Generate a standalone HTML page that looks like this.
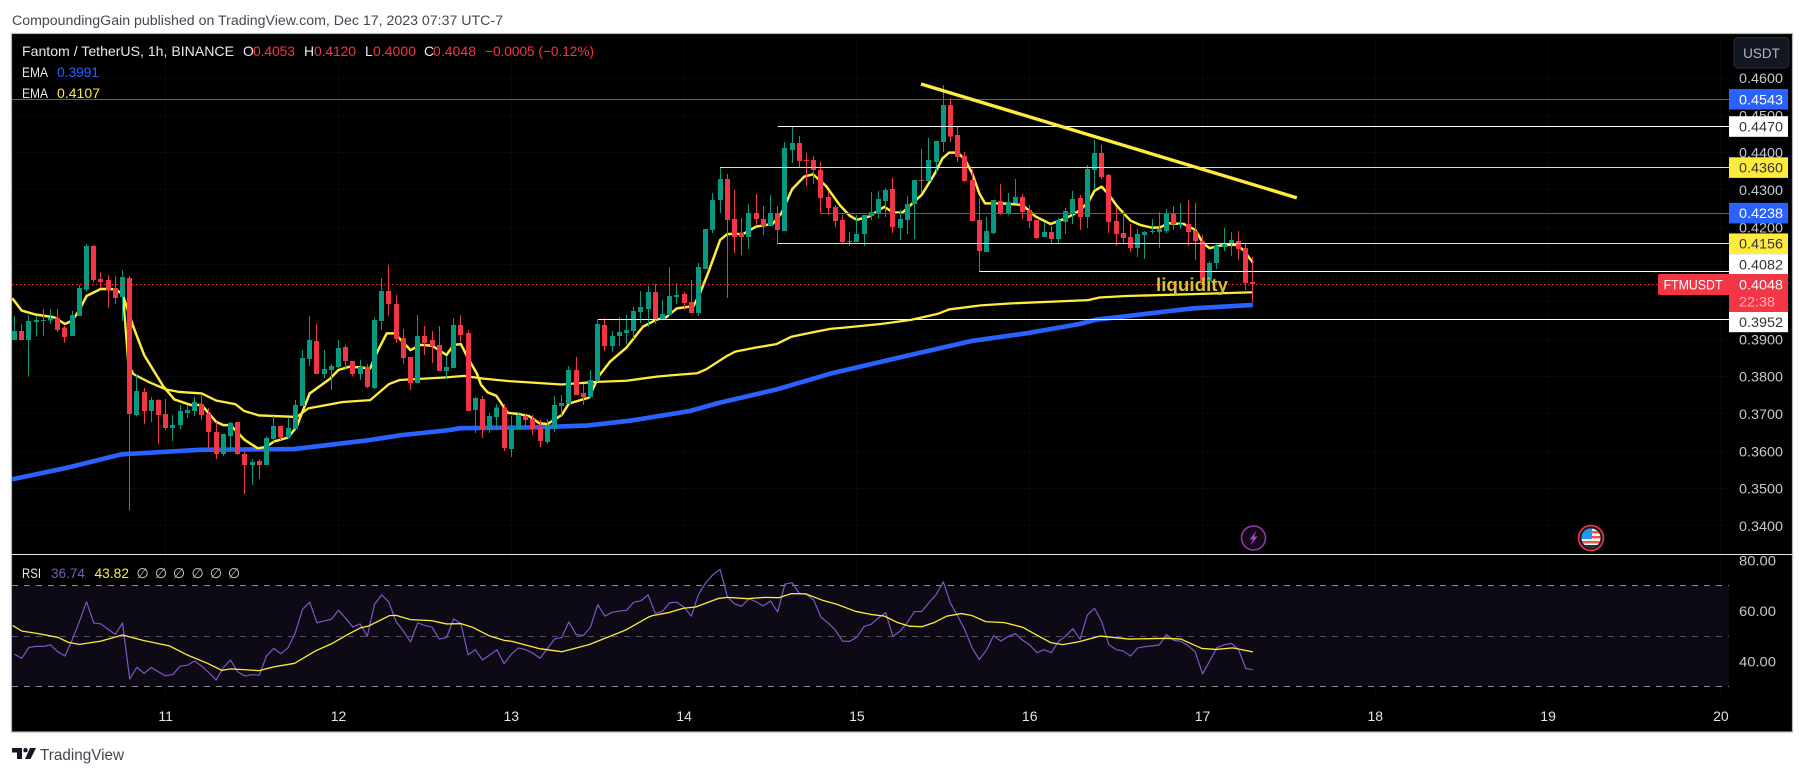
<!DOCTYPE html>
<html lang="en">
<head>
<meta charset="utf-8">
<title>Fantom / TetherUS 1h chart</title>
<style>
html,body{margin:0;padding:0;background:#fff;}
svg{display:block;font-family:"Liberation Sans",sans-serif;}
</style>
</head>
<body>
<svg id="chart" xmlns="http://www.w3.org/2000/svg" width="1805" height="775" viewBox="0 0 1805 775">
  <defs>
    <clipPath id="pane-clip"><rect x="12" y="34" width="1717" height="520"/></clipPath>
    <clipPath id="flag-clip"><circle cx="1591" cy="538" r="9.5"/></clipPath>
  </defs>
  <rect x="0" y="0" width="1805" height="775" fill="#ffffff"/>
  <text x="12" y="25" font-size="13.5" fill="#434651" textLength="491" lengthAdjust="spacingAndGlyphs">CompoundingGain published on TradingView.com, Dec 17, 2023 07:37 UTC-7</text>
  <rect x="11.5" y="33.5" width="1781" height="698.5" fill="#000000" stroke="#b2b5be" stroke-width="1.2"/>

  <g id="grid"></g>
  <g id="rsi-pane"></g>
  <g id="main-pane" clip-path="url(#pane-clip)"></g>
  <rect x="12" y="554" width="1781" height="1" fill="#e6e7ea"/>
  <text x="1156" y="291" font-size="18" font-weight="bold" fill="#d6c22e" textLength="72" lengthAdjust="spacingAndGlyphs">liquidity</text>

  <g font-size="14">
    <text x="22" y="56" fill="#e8e9ec" textLength="212" lengthAdjust="spacingAndGlyphs">Fantom / TetherUS, 1h, BINANCE</text>
    <text x="243" y="56" fill="#e8e9ec">O</text>
    <text x="253" y="56" fill="#f23645" textLength="42">0.4053</text>
    <text x="304" y="56" fill="#e8e9ec">H</text>
    <text x="314" y="56" fill="#f23645" textLength="42">0.4120</text>
    <text x="365" y="56" fill="#e8e9ec">L</text>
    <text x="373" y="56" fill="#f23645" textLength="43">0.4000</text>
    <text x="424" y="56" fill="#e8e9ec">C</text>
    <text x="433" y="56" fill="#f23645" textLength="43">0.4048</text>
    <text x="485" y="56" fill="#f23645" textLength="109" lengthAdjust="spacingAndGlyphs">−0.0005 (−0.12%)</text>
    <text x="22" y="77" fill="#e8e9ec" textLength="26" lengthAdjust="spacingAndGlyphs">EMA</text>
    <text x="57" y="77" fill="#2962ff" textLength="42">0.3991</text>
    <text x="22" y="98" fill="#e8e9ec" textLength="26" lengthAdjust="spacingAndGlyphs">EMA</text>
    <text x="57" y="98" fill="#ffeb3b" textLength="43">0.4107</text>
  </g>

  <g font-size="14">
    <text x="22" y="578" fill="#e8e9ec" textLength="19" lengthAdjust="spacingAndGlyphs">RSI</text>
    <text x="51" y="578" fill="#7e57c2" textLength="34" lengthAdjust="spacingAndGlyphs">36.74</text>
    <text x="94.5" y="578" fill="#ffeb3b" textLength="34.5" lengthAdjust="spacingAndGlyphs">43.82</text>
    <text x="142.6" y="578" fill="#d1d4dc" text-anchor="middle">∅</text>
    <text x="161" y="578" fill="#d1d4dc" text-anchor="middle">∅</text>
    <text x="179" y="578" fill="#d1d4dc" text-anchor="middle">∅</text>
    <text x="197.6" y="578" fill="#d1d4dc" text-anchor="middle">∅</text>
    <text x="216" y="578" fill="#d1d4dc" text-anchor="middle">∅</text>
    <text x="234" y="578" fill="#d1d4dc" text-anchor="middle">∅</text>
  </g>

  <g id="price-axis"></g>
  <g id="time-axis"></g>

  <g>
    <rect x="1734" y="37.5" width="55" height="30.5" rx="4" fill="#131722" stroke="#2a2e39" stroke-width="1"/>
    <text x="1761.5" y="58" font-size="13.5" fill="#b2b5be" text-anchor="middle">USDT</text>
  </g>

  <g>
    <circle cx="1253.5" cy="538" r="12" fill="#14081a" stroke="#8e3aa6" stroke-width="1.6"/>
    <path d="M1256.5 530.5 L1249.5 539.5 L1253 539.5 L1250.5 545.5 L1257.5 536.5 L1254 536.5 Z" fill="#a845c4"/>
  </g>
  <g>
    <circle cx="1591" cy="538" r="12.5" fill="#1c1c20" stroke="#f23645" stroke-width="1.6"/>
    <g clip-path="url(#flag-clip)">
      <rect x="1581" y="528" width="20" height="20" fill="#f4f4f4"/>
      <rect x="1581" y="531" width="20" height="2.4" fill="#ef5350"/>
      <rect x="1581" y="536" width="20" height="2.4" fill="#ef5350"/>
      <rect x="1581" y="541" width="20" height="2.4" fill="#ef5350"/>
      <rect x="1581" y="528" width="11" height="11" fill="#2196f3"/>
      <rect x="1581" y="545" width="20" height="3" fill="#2a2e39"/>
    </g>
  </g>

  <g>
    <path d="M12 748 H22 V759 H17 V752.5 H12 Z M36 748 L30.5 759 H25 L30 748 Z" fill="#131722"/>
    <circle cx="25.5" cy="750.2" r="2.2" fill="#131722"/>
    <text x="40" y="760" font-size="16" fill="#434651" textLength="84" lengthAdjust="spacingAndGlyphs">TradingView</text>
  </g>
</svg>

<script>
// ---------- chart data (prices in USDT, indices in hourly candles) ----------
const opens = [
0.3898,0.3922,0.3898,0.3947,0.3949,0.3950,0.3957,0.3931,0.3909,0.3962,
0.4034,0.4150,0.4061,0.4059,0.4037,0.4013,0.4064,0.3697,0.3759,0.3708,
0.3737,0.3700,0.3662,0.3670,0.3703,0.3708,0.3727,0.3700,0.3652,0.3593,
0.3641,0.3678,0.3593,0.3563,0.3574,0.3563,0.3633,0.3668,0.3637,0.3660,
0.3721,0.3847,0.3895,0.3807,0.3818,0.3826,0.3879,0.3842,0.3807,0.3826,
0.3770,0.3949,0.4029,0.3995,0.3903,0.3852,0.3783,0.3909,0.3898,0.3885,
0.3815,0.3823,0.3938,0.3917,0.3711,0.3740,0.3657,0.3692,0.3716,0.3606,
0.3660,0.3694,0.3686,0.3662,0.3625,0.3665,0.3721,0.3727,0.3818,0.3756,
0.3745,0.3788,0.3938,0.3882,0.3909,0.3917,0.3922,0.3973,0.3981,0.4027,
0.3954,0.3965,0.4013,0.4021,0.4000,0.3970,0.4088,0.4193,0.4273,0.4329,
0.4222,0.4185,0.4174,0.4238,0.4222,0.4204,0.4238,0.4190,0.4407,0.4426,
0.4380,0.4380,0.4354,0.4281,0.4254,0.4220,0.4163,0.4161,0.4182,0.4230,
0.4238,0.4271,0.4303,0.4198,0.4220,0.4262,0.4327,0.4324,0.4375,0.4429,
0.4528,0.4447,0.4391,0.4327,0.4220,0.4134,0.4185,0.4271,0.4236,0.4265,
0.4281,0.4246,0.4220,0.4174,0.4187,0.4169,0.4214,0.4236,0.4278,0.4228,
0.4354,0.4399,0.4340,0.4217,0.4185,0.4174,0.4145,0.4179,0.4187,0.4187,
0.4190,0.4236,0.4206,0.4209,0.4190,0.4163,0.4056,0.4104,0.4147,0.4155,
0.4163,0.4145,0.4053];
const highs = [
0.3962,0.3941,0.3965,0.3962,0.3981,0.3981,0.3981,0.3936,0.3976,0.4045,
0.4155,0.4153,0.4079,0.4072,0.4070,0.4086,0.4070,0.3807,0.3769,0.3745,
0.3740,0.3740,0.3697,0.3724,0.3724,0.3745,0.3753,0.3716,0.3678,0.3646,
0.3679,0.3678,0.3599,0.3579,0.3579,0.3639,0.3694,0.3668,0.3689,0.3737,
0.3871,0.3962,0.3941,0.3871,0.3834,0.3898,0.3885,0.3842,0.3844,0.3834,
0.3959,0.4064,0.4099,0.4019,0.3928,0.3852,0.3965,0.3936,0.3922,0.3936,
0.3855,0.3957,0.3965,0.3925,0.3745,0.3748,0.3702,0.3727,0.3727,0.3694,
0.3705,0.3700,0.3697,0.3684,0.3686,0.3748,0.3751,0.3828,0.3852,0.3780,
0.3818,0.3952,0.3957,0.3922,0.3960,0.3965,0.3987,0.4029,0.4043,0.4048,
0.4005,0.4094,0.4051,0.4027,0.4059,0.4104,0.4196,0.4292,0.4359,0.4343,
0.4300,0.4225,0.4262,0.4289,0.4257,0.4287,0.4257,0.4429,0.4469,0.4445,
0.4399,0.4391,0.4375,0.4295,0.4260,0.4233,0.4187,0.4233,0.4233,0.4295,
0.4297,0.4305,0.4332,0.4246,0.4284,0.4327,0.4410,0.4439,0.4431,0.4581,
0.4546,0.4469,0.4402,0.4356,0.4279,0.4228,0.4273,0.4316,0.4292,0.4329,
0.4289,0.4260,0.4220,0.4214,0.4203,0.4225,0.4252,0.4297,0.4286,0.4367,
0.4434,0.4420,0.4343,0.4254,0.4246,0.4209,0.4195,0.4190,0.4222,0.4241,
0.4249,0.4257,0.4265,0.4273,0.4265,0.4179,0.4110,0.4158,0.4198,0.4187,
0.4190,0.4155,0.4120];
const lows = [
0.3898,0.3898,0.3800,0.3907,0.3909,0.3941,0.3920,0.3891,0.3909,0.3962,
0.4030,0.4052,0.4037,0.3984,0.3995,0.3949,0.3441,0.3693,0.3673,0.3678,
0.3619,0.3657,0.3628,0.3660,0.3689,0.3694,0.3684,0.3608,0.3579,0.3587,
0.3599,0.3590,0.3485,0.3510,0.3526,0.3563,0.3625,0.3630,0.3633,0.3660,
0.3721,0.3828,0.3807,0.3796,0.3764,0.3823,0.3818,0.3800,0.3791,0.3770,
0.3767,0.3925,0.3962,0.3890,0.3834,0.3764,0.3783,0.3858,0.3836,0.3815,
0.3794,0.3823,0.3893,0.3708,0.3649,0.3636,0.3649,0.3657,0.3601,0.3585,
0.3660,0.3668,0.3644,0.3611,0.3620,0.3652,0.3692,0.3727,0.3751,0.3724,
0.3745,0.3786,0.3869,0.3866,0.3882,0.3887,0.3901,0.3944,0.3933,0.3941,
0.3952,0.3962,0.3995,0.3978,0.3970,0.3962,0.4088,0.4185,0.4238,0.4011,
0.4131,0.4126,0.4142,0.4204,0.4179,0.4204,0.4154,0.4190,0.4372,0.4362,
0.4311,0.4316,0.4237,0.4233,0.4201,0.4155,0.4150,0.4161,0.4150,0.4220,
0.4225,0.4228,0.4185,0.4166,0.4182,0.4169,0.4292,0.4324,0.4343,0.4402,
0.4429,0.4375,0.4321,0.4217,0.4083,0.4134,0.4182,0.4233,0.4233,0.4265,
0.4222,0.4198,0.4169,0.4174,0.4158,0.4155,0.4182,0.4209,0.4193,0.4198,
0.4300,0.4329,0.4185,0.4150,0.4158,0.4134,0.4120,0.4115,0.4182,0.4145,
0.4185,0.4193,0.4195,0.4150,0.4112,0.4051,0.4056,0.4088,0.4136,0.4123,
0.4112,0.4032,0.4000];
const closes = [
0.3922,0.3898,0.3949,0.3952,0.3952,0.3957,0.3925,0.3906,0.3965,0.4037,
0.4150,0.4059,0.4053,0.4032,0.4011,0.4067,0.3700,0.3761,0.3708,0.3737,
0.3697,0.3662,0.3670,0.3708,0.3711,0.3732,0.3697,0.3652,0.3593,0.3646,
0.3676,0.3593,0.3563,0.3571,0.3563,0.3636,0.3668,0.3637,0.3662,0.3724,
0.3850,0.3898,0.3807,0.3820,0.3828,0.3877,0.3842,0.3807,0.3826,0.3772,
0.3952,0.4029,0.3995,0.3901,0.3850,0.3783,0.3909,0.3890,0.3882,0.3815,
0.3826,0.3938,0.3911,0.3708,0.3743,0.3660,0.3694,0.3718,0.3609,0.3662,
0.3697,0.3684,0.3660,0.3628,0.3668,0.3724,0.3729,0.3818,0.3751,0.3745,
0.3791,0.3941,0.3882,0.3909,0.3919,0.3925,0.3976,0.3987,0.4027,0.3954,
0.3968,0.4016,0.4019,0.3997,0.3970,0.4094,0.4196,0.4273,0.4329,0.4220,
0.4174,0.4174,0.4238,0.4222,0.4204,0.4238,0.4193,0.4412,0.4426,0.4378,
0.4378,0.4354,0.4279,0.4252,0.4217,0.4161,0.4161,0.4182,0.4233,0.4241,
0.4276,0.4300,0.4201,0.4222,0.4262,0.4327,0.4324,0.4380,0.4431,0.4528,
0.4443,0.4388,0.4324,0.4217,0.4137,0.4190,0.4273,0.4236,0.4268,0.4281,
0.4241,0.4217,0.4171,0.4187,0.4169,0.4220,0.4244,0.4276,0.4228,0.4356,
0.4399,0.4335,0.4214,0.4182,0.4171,0.4145,0.4182,0.4187,0.4190,0.4195,
0.4236,0.4209,0.4209,0.4187,0.4163,0.4056,0.4104,0.4150,0.4158,0.4166,
0.4142,0.4051,0.4048];

const emaFastIndex = [-0.3,1,3,5.5,7,8,9,10,12,14,15,16.5,18,20.7,22.2,24.5,26,28,29,30,32,33.8,35,36,38,39.2,40,41,43.8,45,46.6,49.4,50.5,51.7,52.8,55,56.4,58,60,61,62,63,64.2,64.8,65.7,66.9,68.5,70,71.5,72.9,74,76,77,79.8,81.1,82.7,85,87.3,89.2,90.5,92,94.3,95.2,96.4,98,99,101.2,103,105.3,106.5,108,109.7,110.9,112.7,114.6,116,117,118.7,120.8,122,123.3,124.7,126,127.7,128.9,129.8,131,132,133,134,134.8,137.1,140,141.8,143.9,145.5,146.9,148,149.2,150,151,152,153.2,155,156.4,158,159.1,160.3,162.4,164,165.1,166,167.9,169.7,170.7,172];
const emaFastValues = [0.4010,0.3977,0.3966,0.3959,0.3941,0.3950,0.3978,0.4016,0.4035,0.4034,0.4021,0.3934,0.3858,0.3773,0.3739,0.3724,0.3724,0.3679,0.3670,0.3670,0.3630,0.3608,0.3612,0.3626,0.3637,0.3666,0.3706,0.3755,0.3794,0.3818,0.3827,0.3822,0.3871,0.3916,0.3916,0.3871,0.3885,0.3883,0.3858,0.3885,0.3887,0.3849,0.3809,0.3778,0.3758,0.3749,0.3703,0.3700,0.3694,0.3675,0.3673,0.3697,0.3728,0.3744,0.3800,0.3840,0.3878,0.3934,0.3953,0.3959,0.3983,0.3989,0.4023,0.4081,0.4166,0.4182,0.4182,0.4202,0.4209,0.4237,0.4302,0.4336,0.4342,0.4311,0.4260,0.4231,0.4220,0.4229,0.4255,0.4240,0.4239,0.4264,0.4287,0.4340,0.4385,0.4400,0.4400,0.4382,0.4345,0.4291,0.4264,0.4264,0.4260,0.4229,0.4209,0.4220,0.4233,0.4246,0.4269,0.4298,0.4309,0.4287,0.4255,0.4218,0.4206,0.4199,0.4200,0.4211,0.4209,0.4193,0.4157,0.4144,0.4153,0.4153,0.4139,0.4105];

const emaSlowIndex = [15.1,15.8,16.5,18.7,21,22.9,26,28,30.7,31.9,34,39.2,40.8,45.6,49.4,52,53.5,60,62.4,65,68.7,76,80.9,85,89.2,91.5,94.8,96.1,98.9,100.1,103,105.8,107.9,110.9,113.3,115.6,120.3,124.5,128.2,129.8,134.2,138.2,149.1,150.7,154.4,163.7,172];
const emaSlowValues = [0.4014,0.3835,0.3807,0.3785,0.3766,0.3759,0.3755,0.3736,0.3726,0.3708,0.3696,0.3692,0.3715,0.3732,0.3737,0.3780,0.3791,0.3798,0.3802,0.3795,0.3788,0.3779,0.3786,0.3789,0.3800,0.3804,0.3809,0.3820,0.3855,0.3867,0.3878,0.3887,0.3907,0.3919,0.3928,0.3932,0.3941,0.3952,0.3968,0.3980,0.3991,0.3996,0.4005,0.4012,0.4016,0.4021,0.4026];

const emaBlueIndex = [-0.3,7.3,14.9,25.8,38.8,48.9,53.6,60.5,61.9,71.6,79.5,85.5,93.8,97.9,105.9,113.3,121.5,129.4,133.1,140.5,147.9,150.3,154.4,163.7,172];
const emaBlueValues = [0.3525,0.3556,0.3592,0.3604,0.3606,0.3629,0.3643,0.3657,0.3662,0.3664,0.3669,0.3682,0.3708,0.3730,0.3766,0.3808,0.3845,0.3880,0.3896,0.3916,0.3941,0.3953,0.3962,0.3983,0.3992];

const rsiValues = [
42.9,41.3,45.6,46.0,46.0,46.6,43.9,42.2,48.5,55.8,
63.7,55.3,54.9,52.8,50.7,55.3,33.1,37.7,35.3,37.7,
35.9,34.3,34.9,38.2,38.5,40.2,38.2,35.6,32.7,37.6,
40.6,35.9,34.3,34.8,34.6,42.2,45.2,43.1,45.5,51.4,
60.7,63.5,55.4,56.1,56.7,60.3,57.1,53.7,54.9,50.0,
62.7,66.4,63.5,55.8,52.1,47.8,55.3,54.3,53.6,48.9,
49.5,56.9,55.0,42.7,44.7,40.6,42.6,44.7,39.2,42.9,
45.4,44.7,43.3,41.3,45.1,48.9,49.5,55.7,50.7,50.3,
53.6,62.5,58.0,59.5,60.0,60.3,63.5,64.0,66.4,59.1,
59.9,63.3,63.5,61.5,58.0,66.6,71.2,74.4,76.5,65.7,
62.8,61.9,64.9,63.7,62.0,64.0,59.6,70.7,71.2,67.0,
66.6,64.4,57.6,55.3,52.5,48.1,48.0,49.7,53.9,54.8,
57.3,59.4,49.9,52.1,55.5,59.8,59.8,63.3,66.5,71.6,
63.1,58.0,52.5,45.4,40.8,44.6,50.3,48.1,49.9,51.1,
48.5,46.6,43.5,44.7,43.5,48.0,50.1,53.0,48.8,58.4,
61.1,55.8,46.7,44.7,44.2,42.2,45.4,45.9,46.2,46.6,
50.7,48.4,48.0,46.3,43.8,35.1,40.2,45.5,46.6,47.2,
44.8,37.3,36.74];
const rsiMaIndex = [-0.26,1,3,6,7.5,9,12,15,18,21.5,24,26.8,28.8,30,34,36,38.9,41.8,44,46.4,48.1,49.2,52.1,53,55,57.9,60,62,63.6,66,68,69.1,72.9,76,79.8,84.9,88,88.6,90.9,92.9,94.6,97.8,99,101.8,104.1,106.2,107.9,109.9,112.2,114.2,116.8,119.1,120.8,122.6,124.3,126,127.7,129.5,131.5,132.9,134.9,137.5,140,142.1,143.9,145.6,147.9,150.8,154.8,160,162,164.9,166.9,169.2,172];
const rsiMaValues = [54.3,52.1,51.2,49.6,47.6,46.8,48.1,50.5,48.3,46.2,42.6,39.3,36.5,37.1,36.4,37.9,39.3,44.2,47.0,50.9,53.4,54.1,58.2,58.3,56.6,56.2,54.9,55.0,53.6,50.1,48.4,48.0,45.1,43.9,46.7,52.5,57.5,58.2,59.4,61.1,61.6,65.0,65.4,64.9,65.4,65.3,66.9,66.8,64.3,62.7,59.9,58.6,58.0,55.5,54.0,53.8,55.4,58.0,59.0,58.3,55.8,55.4,53.6,50.3,47.5,46.7,47.9,50.1,48.9,49.2,48.9,45.2,44.8,45.4,43.82];

const levelPrices = [0.4543,0.4470,0.4360,0.4238,0.4156,0.4082,0.3952];
const levelStartIndex = [-2,106,98,112,106,134,81];
const trendIndex = [125.9,178.1];
const trendPrices = [0.4584,0.4279];

const priceTicks = [0.46,0.45,0.44,0.43,0.42,0.41,0.40,0.39,0.38,0.37,0.36,0.35,0.34];
const rsiTicks = [80,60,40];
const rsiBands = [70,50,30];
const dayLabels = [11,12,13,14,15,16,17,18,19,20];
const firstDayIndex = 21;
const countdownText = "22:38";
const symbolText = "FTMUSDT";

// ---------- axis functions ----------
function xAt(i){ return 14.5 + 7.2 * i; }
function yPrice(p){ return 78 + (0.46 - p) * 3733; }
function yRsi(r){ return 636.3 + (50 - r) * 2.525; }
function crisp(v){ return Math.round(v - 0.5) + 0.5; }

const NS = "http://www.w3.org/2000/svg";
function mk(parent, tag, attrs, text){
  const el = document.createElementNS(NS, tag);
  for (const k in attrs) el.setAttribute(k, attrs[k]);
  if (text !== undefined) el.textContent = text;
  parent.appendChild(el);
  return el;
}
function pathFrom(xs, ys){
  return xs.map((x, n) => (n ? "L" : "M") + x.toFixed(2) + " " + ys[n].toFixed(2)).join(" ");
}

const grid = document.getElementById("grid");
const rsiPane = document.getElementById("rsi-pane");
const mainPane = document.getElementById("main-pane");
const priceAxis = document.getElementById("price-axis");
const timeAxis = document.getElementById("time-axis");

// ---------- grid ----------
dayLabels.forEach((d, n) => {
  const x = crisp(xAt(firstDayIndex + 24 * n));
  const g = mk(grid, "line", {x1:x, x2:x, y1:34, y2:700, stroke:"#080808", "stroke-width":1});
  
  
});
priceTicks.forEach(p => {
  const y = crisp(yPrice(p));
  const g = mk(grid, "line", {x1:12, x2:1729, y1:y, y2:y, stroke:"#080808", "stroke-width":1});
  
  
});

// ---------- RSI pane ----------
const band = mk(rsiPane, "rect", {x:12, y:yRsi(rsiBands[0]), width:1717, height:yRsi(rsiBands[2]) - yRsi(rsiBands[0]), fill:"#0d0a15"});


rsiBands.forEach((b, n) => {
  const y = crisp(yRsi(b));
  const l = mk(rsiPane, "line", {x1:12, x2:1729, y1:y, y2:y, stroke:n === 1 ? "#55525e" : "#8a8d96", "stroke-width":1, "stroke-dasharray":"6 6"});
  
  
});
const rsiLine = mk(rsiPane, "path", {d:pathFrom(rsiValues.map((v, i) => xAt(i)), rsiValues.map(yRsi)), fill:"none", stroke:"#7e57c2", "stroke-width":1.2, "stroke-linejoin":"round"});


const rsiMa = mk(rsiPane, "path", {d:pathFrom(rsiMaIndex.map(xAt), rsiMaValues.map(yRsi)), fill:"none", stroke:"#ffeb3b", "stroke-width":1.3, "stroke-linejoin":"round"});



// ---------- main pane: moving averages ----------
const blueLine = mk(mainPane, "path", {d:pathFrom(emaBlueIndex.map(xAt), emaBlueValues.map(yPrice)), fill:"none", stroke:"#2962ff", "stroke-width":4.6, "stroke-linejoin":"round"});


const slowLine = mk(mainPane, "path", {d:pathFrom(emaSlowIndex.map(xAt), emaSlowValues.map(yPrice)), fill:"none", stroke:"#ffeb3b", "stroke-width":2.3, "stroke-linejoin":"round"});


const fastLine = mk(mainPane, "path", {d:pathFrom(emaFastIndex.map(xAt), emaFastValues.map(yPrice)), fill:"none", stroke:"#ffeb3b", "stroke-width":2.5, "stroke-linejoin":"round"});



// ---------- main pane: candles ----------
const UP = "#089981", DOWN = "#f23645";
const candleGroup = mk(mainPane, "g", {"shape-rendering":"crispEdges"});


closes.forEach((c, i) => {
  const o = opens[i];
  const col = c >= o ? UP : DOWN;
  const cx = xAt(i);
  const wick = mk(candleGroup, "rect", {x:Math.round(cx - 0.5), y:yPrice(highs[i]), width:1, height:Math.max(1, yPrice(lows[i]) - yPrice(highs[i])), fill:col});
  
  
  const top = yPrice(Math.max(o, c));
  const body = mk(candleGroup, "rect", {x:Math.round(cx - 0.5) - 2, y:top, width:5, height:Math.max(1, yPrice(Math.min(o, c)) - top), fill:col});
  
  
});

// ---------- main pane: drawings ----------
const levelColors = ["#2962ff","#ffffff","#ffeb3b","#2962ff","#ffeb3b","#ffffff","#ffffff"];
const levelNames = ["blue","white","yellow","blue","yellow","white","white"];
levelPrices.forEach((p, n) => {
  const y = crisp(yPrice(p));
  const l = mk(mainPane, "line", {x1:xAt(levelStartIndex[n]), x2:1729, y1:y, y2:y, stroke:levelColors[n], "stroke-width":1});
  
  
});
const lastPrice = closes[closes.length - 1];
const lastY = crisp(yPrice(lastPrice));
const lastLine = mk(mainPane, "line", {x1:12, x2:1660, y1:lastY, y2:lastY, stroke:"#f23645", "stroke-width":1, "stroke-dasharray":"1.5 2.5"});


const trend = mk(mainPane, "line", {x1:xAt(trendIndex[0]), y1:yPrice(trendPrices[0]), x2:xAt(trendIndex[1]), y2:yPrice(trendPrices[1]), stroke:"#ffeb3b", "stroke-width":3.4});



// ---------- price axis ----------
priceTicks.forEach(p => {
  const t = mk(priceAxis, "text", {x:1739, y:yPrice(p) + 5, "font-size":14, fill:"#c4c7cf", textLength:44, lengthAdjust:"spacingAndGlyphs"}, p.toFixed(4));
  
  
});
rsiTicks.forEach(r => {
  const t = mk(priceAxis, "text", {x:1739, y:yRsi(r) + 5, "font-size":14, fill:"#c4c7cf", textLength:37, lengthAdjust:"spacingAndGlyphs"}, r.toFixed(2));
  
  
});
const boxText = ["#ffffff","#333333","#333333","#ffffff","#333333","#333333","#333333"];
const boxShift = [0,0,0,0,0,-7,2];
levelPrices.forEach((p, n) => {
  const cy = yPrice(p) + boxShift[n];
  const box = mk(priceAxis, "rect", {x:1729, y:cy - 10.3, width:59, height:20.6, fill:levelColors[n]});
  
  
  const t = mk(priceAxis, "text", {x:1739, y:cy + 5, "font-size":14, fill:boxText[n], textLength:44, lengthAdjust:"spacingAndGlyphs"}, p.toFixed(4));
  
  
});
const lastBox = mk(priceAxis, "rect", {x:1729, y:lastY - 10.5, width:59, height:38, fill:"#f23645"});


const symBox = mk(priceAxis, "rect", {x:1658, y:lastY - 10.5, width:73, height:21, rx:2, fill:"#f23645"});


const symText = mk(priceAxis, "text", {x:1663.5, y:lastY + 5, "font-size":14, fill:"#ffffff", textLength:59, lengthAdjust:"spacingAndGlyphs"}, symbolText);


const lastText = mk(priceAxis, "text", {x:1739, y:lastY + 5, "font-size":14, fill:"#ffffff", textLength:44, lengthAdjust:"spacingAndGlyphs"}, lastPrice.toFixed(4));


const cdText = mk(priceAxis, "text", {x:1739, y:lastY + 22, "font-size":14, fill:"#ffb2ba", textLength:36, lengthAdjust:"spacingAndGlyphs"}, countdownText);



// ---------- time axis ----------
dayLabels.forEach((d, n) => {
  const t = mk(timeAxis, "text", {x:xAt(firstDayIndex + 24 * n), y:721, "font-size":14, fill:"#e2e4e9", "text-anchor":"middle"}, String(d));
  
  
});
</script>
</body>
</html>
